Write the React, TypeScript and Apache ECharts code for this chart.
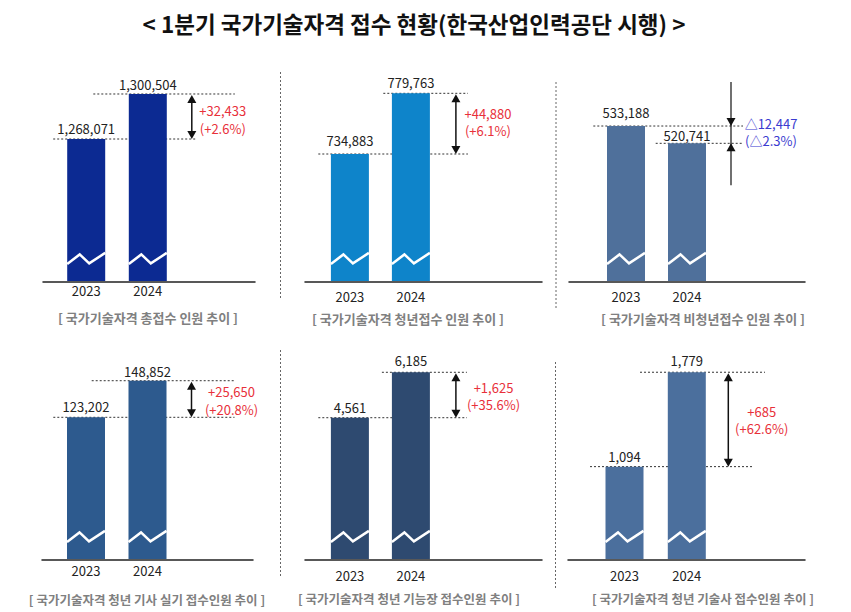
import React, { useEffect, useRef } from "react";
import * as echarts from "echarts";

// ---------- data ----------
const years = ["2023", "2024"];
const totalApplicants = [1268071, 1300504];
const youthApplicants = [734883, 779763];
const nonYouthApplicants = [533188, 520741];
const youthEngineerPractical = [123202, 148852];
const youthMasterCraftsman = [4561, 6185];
const youthProfessionalEngineer = [1094, 1779];

const panelValues = [
  totalApplicants,
  youthApplicants,
  nonYouthApplicants,
  youthEngineerPractical,
  youthMasterCraftsman,
  youthProfessionalEngineer,
];

const changeAmounts = ["+32,433", "+44,880", "△12,447", "+25,650", "+1,625", "+685"];
const changeRates = ["(+2.6%)", "(+6.1%)", "(△2.3%)", "(+20.8%)", "(+35.6%)", "(+62.6%)"];

const panelCaptions = [
  "[ 국가기술자격 총접수 인원 추이 ]",
  "[ 국가기술자격 청년접수 인원 추이 ]",
  "[ 국가기술자격 비청년접수 인원 추이 ]",
  "[ 국가기술자격 청년 기사 실기 접수인원 추이 ]",
  "[ 국가기술자격 청년 기능장 접수인원 추이 ]",
  "[ 국가기술자격 청년 기술사 접수인원 추이 ]",
];

const chartTitle = "< 1분기 국가기술자격 접수 현황(한국산업인력공단 시행) >";

// ---------- layout / style ----------
const FONT = "'Noto Sans CJK KR', 'Noto Sans', sans-serif";
const W = 851;
const H = 612;
const UP_COLOR = "#e8303a";
const DOWN_COLOR = "#3b3bd0";

const layouts = [
  { row: 0, axisLeft: 43, axisRight: 255, c0: 86.2, gap: 61.6, arrowDx: 44, l0: [-33, 5], l1: [-54.5, 43], textDx: 31, textDy: 3, lh: 17.6, labelDy: [-11, -9.5], yMin: 1165400, yMax: 1325000, yearMargin: 2, capX: 148, capY: 317, capSize: 13, color: "#0c2a92" },
  { row: 0, axisLeft: 305, axisRight: 542, c0: 349.9, gap: 61, arrowDx: 45, l0: [-31.6, 12], l1: [-27.6, 12], textDx: 32, textDy: -1.7, lh: 17.6, labelDy: [-14, -10.6], yMin: 640600, yMax: 804400, yearMargin: 8.5, capX: 408, capY: 318, capSize: 13, color: "#0e84ca" },
  { row: 0, axisLeft: 569, axisRight: 805, c0: 626, gap: 61, arrowDx: 44, l0: [-32.7, 12], l1: [-31.3, 12], textDx: 40, textDy: -2.5, lh: 17.6, labelDy: [-13.7, -7.5], yMin: 421300, yMax: 580700, yearMargin: 8.5, capX: 703, capY: 318, capSize: 13, color: "#4f709b" },
  { row: 1, axisLeft: 42, axisRight: 253, c0: 86, gap: 61.5, arrowDx: 44, l0: [-32.7, 43], l1: [-55.8, 43], textDx: 40, textDy: 1.5, lh: 17.6, labelDy: [-10.6, -9], yMin: 23500, yMax: 177400, yearMargin: 4, capX: 147, capY: 599, capSize: 12.5, color: "#2d5a8e" },
  { row: 1, axisLeft: 305, axisRight: 542, c0: 349.9, gap: 61, arrowDx: 45, l0: [-31.6, 11], l1: [-29, 11], textDx: 37.6, textDy: 1, lh: 17.6, labelDy: [-10.4, -11.3], yMin: -510, yMax: 7340, yearMargin: 9, capX: 409, capY: 598, capSize: 12.5, color: "#2e4a70" },
  { row: 1, axisLeft: 568, axisRight: 805, c0: 624.5, gap: 62.3, arrowDx: 41.5, l0: [-34.5, 25], l1: [-46.8, 36.7], textDx: 33.4, textDy: 0.5, lh: 17.6, labelDy: [-10, -11.6], yMin: 420, yMax: 2013, yearMargin: 9, capX: 703, capY: 598, capSize: 12.5, color: "#4b6f9d" },
];

const rowTop = [60, 340];
const rowBaseline = [281.5, 559.5];

function buildOption() {
  const grids: any[] = [];
  const xAxes: any[] = [];
  const yAxes: any[] = [];
  const series: any[] = [];
  const graphics: any[] = [];

  layouts.forEach((L, i) => {
    const baseline = rowBaseline[L.row];
    grids.push({
      left: L.axisLeft,
      right: W - L.axisRight,
      top: rowTop[L.row],
      bottom: H - baseline,
      containLabel: false,
      outerBoundsMode: "none",
    });
    xAxes.push({
      gridIndex: i,
      type: "value",
      min: (L.axisLeft - L.c0) / L.gap,
      max: (L.axisRight - L.c0) / L.gap,
      axisLine: { show: true, onZero: false, lineStyle: { color: "#222", width: 1.5 } },
      axisTick: { show: false },
      splitLine: { show: false },
      axisLabel: {
        customValues: [0, 1],
        formatter: (v: number) => years[Math.round(v)] ?? "",
        margin: L.yearMargin,
        fontSize: 13,
        color: "#222",
        fontFamily: FONT,
      },
    });
    yAxes.push({ gridIndex: i, type: "value", min: L.yMin, max: L.yMax, show: false });

    const vals = panelValues[i];

    // annotation: dotted guide lines, arrow, change text
    series.push({
      type: "custom",
      xAxisIndex: i,
      yAxisIndex: i,
      z: 1,
      silent: true,
      data: [[0, vals[0], vals[1]]],
      encode: { x: 0, y: [1, 2] },
      renderItem: (params: any, api: any) => {
        const v0 = api.value(1);
        const v1 = api.value(2);
        const p0 = api.coord([0, v0]);
        const p1 = api.coord([1, v1]);
        const ax = p1[0] + L.arrowDx;
        const y0 = p0[1];
        const y1 = p1[1];
        const dash = { stroke: "#333", lineWidth: 1, lineDash: [2, 2] };
        const children: any[] = [
          { type: "line", shape: { x1: p0[0] + L.l0[0], y1: y0, x2: ax + L.l0[1], y2: y0 }, style: dash },
          { type: "line", shape: { x1: p1[0] + L.l1[0], y1: y1, x2: ax + L.l1[1], y2: y1 }, style: dash },
        ];
        const up = v1 >= v0;
        const hw = 4.5;
        const hh = 8;
        if (up) {
          const top = y1 + 1;
          const bot = y0;
          children.push(
            { type: "line", shape: { x1: ax, y1: top + hh - 1, x2: ax, y2: bot - hh + 1 }, style: { stroke: "#111", lineWidth: 1.5 } },
            { type: "polygon", shape: { points: [[ax, top], [ax - hw, top + hh], [ax + hw, top + hh]] }, style: { fill: "#111" } },
            { type: "polygon", shape: { points: [[ax, bot], [ax - hw, bot - hh], [ax + hw, bot - hh]] }, style: { fill: "#111" } }
          );
        } else {
          children.push(
            { type: "line", shape: { x1: ax, y1: y0 - 44, x2: ax, y2: y1 + 42 }, style: { stroke: "#111", lineWidth: 1.2 } },
            { type: "polygon", shape: { points: [[ax, y0], [ax - hw, y0 - hh], [ax + hw, y0 - hh]] }, style: { fill: "#111" } },
            { type: "polygon", shape: { points: [[ax, y1], [ax - hw, y1 + hh], [ax + hw, y1 + hh]] }, style: { fill: "#111" } }
          );
        }
        const mid = (y0 + y1) / 2 + L.textDy;
        const tStyle = {
          fill: up ? UP_COLOR : DOWN_COLOR,
          fontSize: 13,
          fontFamily: FONT,
          align: "center",
          verticalAlign: "middle",
        };
        children.push(
          { type: "text", x: ax + L.textDx, y: mid - L.lh / 2, style: { ...tStyle, text: changeAmounts[i] } },
          { type: "text", x: ax + L.textDx, y: mid + L.lh / 2, style: { ...tStyle, text: changeRates[i] } }
        );
        return { type: "group", children };
      },
    });

    // bars with break marks and value labels
    series.push({
      type: "custom",
      xAxisIndex: i,
      yAxisIndex: i,
      z: 2,
      silent: true,
      data: vals.map((v, k) => [k, v]),
      encode: { x: 0, y: 1 },
      renderItem: (params: any, api: any) => {
        const x = api.value(0);
        const v = api.value(1);
        const pt = api.coord([x, v]);
        const cx = pt[0];
        const ty = pt[1];
        const cs = params.coordSys;
        const by = cs.y + cs.height - 0.6;
        const bw = 38;
        const xl = cx - bw / 2;
        return {
          type: "group",
          children: [
            { type: "rect", shape: { x: xl, y: ty, width: bw, height: by - ty }, style: { fill: L.color } },
            {
              type: "polyline",
              shape: { points: [[xl, by - 17], [xl + 12.5, by - 26.5], [xl + 22, by - 17.5], [xl + bw, by - 28]] },
              style: { stroke: "#ffffff", lineWidth: 2.5, fill: null },
            },
            {
              type: "text",
              x: cx,
              y: ty + L.labelDy[x],
              style: {
                text: Number(v).toLocaleString("en-US"),
                fill: "#222",
                fontSize: 13,
                fontFamily: FONT,
                align: "center",
                verticalAlign: "middle",
              },
            },
          ],
        };
      },
    });

    graphics.push({
      type: "text",
      x: L.capX,
      y: L.capY,
      style: {
        text: panelCaptions[i],
        fill: "#808080",
        fontSize: L.capSize,
        fontWeight: "bold",
        fontFamily: FONT,
        align: "center",
        verticalAlign: "middle",
      },
    });
  });

  // dotted separators
  const seps = [
    [280.5, 72, 298],
    [556, 82, 308],
    [280.5, 350, 577],
    [555.5, 362, 588],
  ];
  seps.forEach(([x, y1, y2]) => {
    graphics.push({
      type: "line",
      shape: { x1: x, y1, x2: x, y2 },
      style: { stroke: "#666", lineWidth: 1, lineDash: [2, 2] },
    });
  });

  graphics.push({
    type: "text",
    x: 414,
    y: 23,
    style: {
      text: chartTitle,
      fill: "#111",
      fontSize: 22.5,
      fontWeight: "bold",
      fontFamily: FONT,
      align: "center",
      verticalAlign: "middle",
    },
  });

  return {
    animation: false,
    backgroundColor: "#ffffff",
    grid: grids,
    xAxis: xAxes,
    yAxis: yAxes,
    series,
    graphic: graphics,
  };
}

export default function App() {
  const ref = useRef<HTMLDivElement>(null);
  useEffect(() => {
    if (!ref.current) return;
    const chart = echarts.init(ref.current, null, { renderer: "svg" });
    chart.setOption(buildOption() as any);
    return () => chart.dispose();
  }, []);
  return (
    <div
      ref={ref}
      style={{ position: "absolute", left: 0, top: 0, width: W, height: H }}
    />
  );
}
